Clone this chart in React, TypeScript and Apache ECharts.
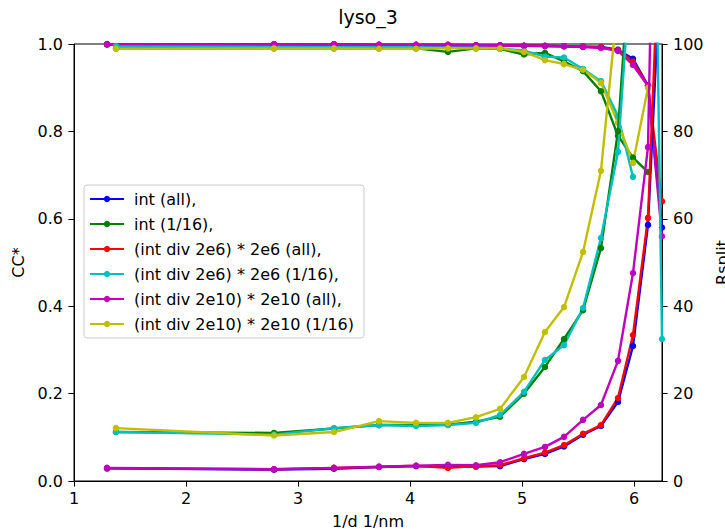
import React, { useEffect, useRef } from "react";
import * as echarts from "echarts";

// Resolution bin centres (1/d, 1/nm)
const X_ALL = [1.295, 2.786, 3.321, 3.723, 4.054, 4.339, 4.589, 4.804, 5.018, 5.205, 5.375, 5.545, 5.705, 5.857, 5.991, 6.125, 6.25];
const X_SUB = [1.375, 2.786, 3.321, 3.723, 4.054, 4.339, 4.589, 4.804, 5.018, 5.205, 5.375, 5.545, 5.705, 5.857, 5.991, 6.125, 6.25];

const SERIES_NAMES = [
  "int (all),",
  "int (1/16),",
  "(int div 2e6) * 2e6 (all),",
  "(int div 2e6) * 2e6 (1/16),",
  "(int div 2e10) * 2e10 (all),",
  "(int div 2e10) * 2e10 (1/16)",
];

// CC* (left axis)
const CC_INT_ALL = [0.999, 0.999, 0.999, 0.998, 0.998, 0.998, 0.997, 0.997, 0.996, 0.996, 0.995, 0.994, 0.993, 0.987, 0.966, 0.905, 0.58];
const CC_INT_SUB = [0.99, 0.99, 0.99, 0.99, 0.99, 0.982, 0.99, 0.989, 0.976, 0.98, 0.96, 0.938, 0.892, 0.79, 0.74, 0.707, null];
const CC_2E6_ALL = [0.999, 0.999, 0.999, 0.998, 0.998, 0.998, 0.997, 0.997, 0.996, 0.996, 0.995, 0.994, 0.993, 0.986, 0.96, 0.905, 0.64];
const CC_2E6_SUB = [0.995, 0.995, 0.994, 0.994, 0.994, 0.995, 0.993, 0.99, 0.985, 0.971, 0.969, 0.943, 0.915, 0.835, 0.696, null, null];
const CC_2E10_ALL = [1.0, 0.999, 0.999, 0.998, 0.998, 0.997, 0.997, 0.997, 0.996, 0.995, 0.995, 0.993, 0.991, 0.984, 0.952, 0.904, 0.56];
const CC_2E10_SUB = [0.989, 0.99, 0.99, 0.989, 0.989, 0.99, 0.99, 0.99, 0.982, 0.963, 0.954, 0.941, 0.911, 0.82, 0.728, 0.9, null];

// Rsplit (right axis)
const RS_INT_ALL = [2.9, 2.6, 2.8, 3.2, 3.4, 3.3, 3.3, 3.4, 5.0, 6.2, 7.9, 10.6, 12.6, 18.1, 30.9, 58.6, 125];
const RS_INT_SUB = [11.2, 11.0, 12.0, 12.8, 12.8, 12.9, 13.6, 14.7, 20.0, 26.1, 32.5, 39.1, 53.3, 80, 130, 200, null];
const RS_2E6_ALL = [2.9, 2.7, 3.0, 3.2, 3.5, 3.0, 3.4, 3.6, 5.2, 6.5, 8.2, 10.8, 12.8, 19.0, 33.4, 60.2, 140];
const RS_2E6_SUB = [11.2, 10.6, 12.1, 12.8, 12.6, 12.8, 13.3, 15.1, 20.4, 27.7, 31.1, 39.6, 55.6, 75.3, 125, 250, 32.5];
const RS_2E10_ALL = [3.0, 2.7, 3.0, 3.3, 3.5, 3.7, 3.6, 4.3, 6.2, 7.8, 10.1, 14.0, 17.4, 27.5, 47.6, 76.4, 240];
const RS_2E10_SUB = [12.1, 10.4, 11.2, 13.7, 13.3, 13.3, 14.6, 16.5, 23.8, 34.1, 39.8, 52.4, 71, 110, 150, 200, null];

const X_TICKS = [1, 2, 3, 4, 5, 6];

const COLORS = ["#0000ff", "#008000", "#ff0000", "#00bfbf", "#bf00bf", "#bfbf00"];
const FONT = "DejaVu Sans";

function pairs(xs: number[], ys: (number | null)[]) {
  const out: [number, number][] = [];
  for (let i = 0; i < xs.length; i++) {
    const y = ys[i];
    if (y !== null && y !== undefined) out.push([xs[i], y]);
  }
  return out;
}

export default function App() {
  const ref = useRef<HTMLDivElement>(null);

  useEffect(() => {
    if (!ref.current) return;
    const chart = echarts.init(ref.current, undefined, { renderer: "svg" });

    const ccSets = [CC_INT_ALL, CC_INT_SUB, CC_2E6_ALL, CC_2E6_SUB, CC_2E10_ALL, CC_2E10_SUB];
    const rsSets = [RS_INT_ALL, RS_INT_SUB, RS_2E6_ALL, RS_2E6_SUB, RS_2E10_ALL, RS_2E10_SUB];
    const xFor = (i: number) => (i % 2 === 0 ? X_ALL : X_SUB);

    const mk = (i: number, ys: (number | null)[], yAxisIndex: number) => ({
      type: "line",
      name: SERIES_NAMES[i],
      xAxisIndex: 0,
      yAxisIndex,
      data: pairs(xFor(i), ys),
      symbol: "circle",
      symbolSize: 6.5,
      showSymbol: true,
      clip: true,
      lineStyle: { width: 2.4, color: COLORS[i] },
      itemStyle: { color: COLORS[i], borderWidth: 0 },
      emphasis: { disabled: true },
      z: yAxisIndex === 0 ? 2 : 3,
    });

    const series: any[] = [];
    ccSets.forEach((ys, i) => series.push(mk(i, ys, 0)));
    rsSets.forEach((ys, i) => series.push(mk(i, ys, 1)));

    const labelStyle = { fontSize: 16, fontFamily: FONT, color: "#000" };
    const tickStyle = { color: "#000", width: 1 };

    chart.setOption({
      animation: false,
      backgroundColor: "#fff",
      color: COLORS,
      grid: {
        left: 74,
        right: 63,
        top: 44,
        bottom: 48,
        containLabel: false,
        outerBoundsMode: "none",
        show: true,
        borderColor: "#000",
        borderWidth: 1,
        backgroundColor: "transparent",
      },
      graphic: [
        {
          type: "text",
          x: 368,
          y: 17,
          style: {
            text: "lyso_3",
            textAlign: "center",
            textVerticalAlign: "middle",
            fontSize: 19,
            fontFamily: FONT,
            fill: "#000",
          },
        },
      ],
      legend: {
        data: SERIES_NAMES,
        orient: "vertical",
        left: 84,
        top: 185,
        itemWidth: 34,
        itemHeight: 8,
        itemGap: 9,
        padding: [6, 10, 6, 5],
        backgroundColor: "rgba(255,255,255,0.8)",
        borderColor: "#cccccc",
        borderWidth: 1,
        borderRadius: 3,
        selectedMode: false,
        textStyle: { fontSize: 16, fontFamily: FONT, color: "#000", padding: [0, 0, 0, 5] },
      },
      xAxis: {
        type: "value",
        min: 1,
        max: 6.25,
        interval: 1,
        name: "1/d 1/nm",
        nameLocation: "middle",
        nameGap: 32,
        nameTextStyle: labelStyle,
        axisLine: { show: true, lineStyle: tickStyle },
        axisTick: { show: true, length: 5.6, lineStyle: tickStyle, customValues: X_TICKS },
        axisLabel: { ...labelStyle, margin: 9, customValues: X_TICKS },
        splitLine: { show: false },
      },
      yAxis: [
        {
          type: "value",
          position: "left",
          min: 0,
          max: 1,
          interval: 0.2,
          name: "CC*",
          nameLocation: "middle",
          nameRotate: 90,
          nameGap: 37,
          nameTextStyle: labelStyle,
          axisLine: { show: true, lineStyle: tickStyle },
          axisTick: { show: true, length: 5.6, lineStyle: tickStyle },
          axisLabel: { ...labelStyle, margin: 11, formatter: (v: number) => v.toFixed(1) },
          splitLine: { show: false },
        },
        {
          type: "value",
          position: "right",
          min: 0,
          max: 100,
          interval: 20,
          name: "Rsplit",
          nameLocation: "middle",
          nameRotate: 90,
          nameGap: 47,
          nameTextStyle: labelStyle,
          axisLine: { show: true, lineStyle: tickStyle },
          axisTick: { show: true, length: 5.6, lineStyle: tickStyle },
          axisLabel: { ...labelStyle, margin: 11 },
          splitLine: { show: false },
        },
      ],
      series,
    });

    return () => chart.dispose();
  }, []);

  return (
    <div
      ref={ref}
      style={{ position: "absolute", left: 0, top: 0, width: 725, height: 529 }}
    />
  );
}
